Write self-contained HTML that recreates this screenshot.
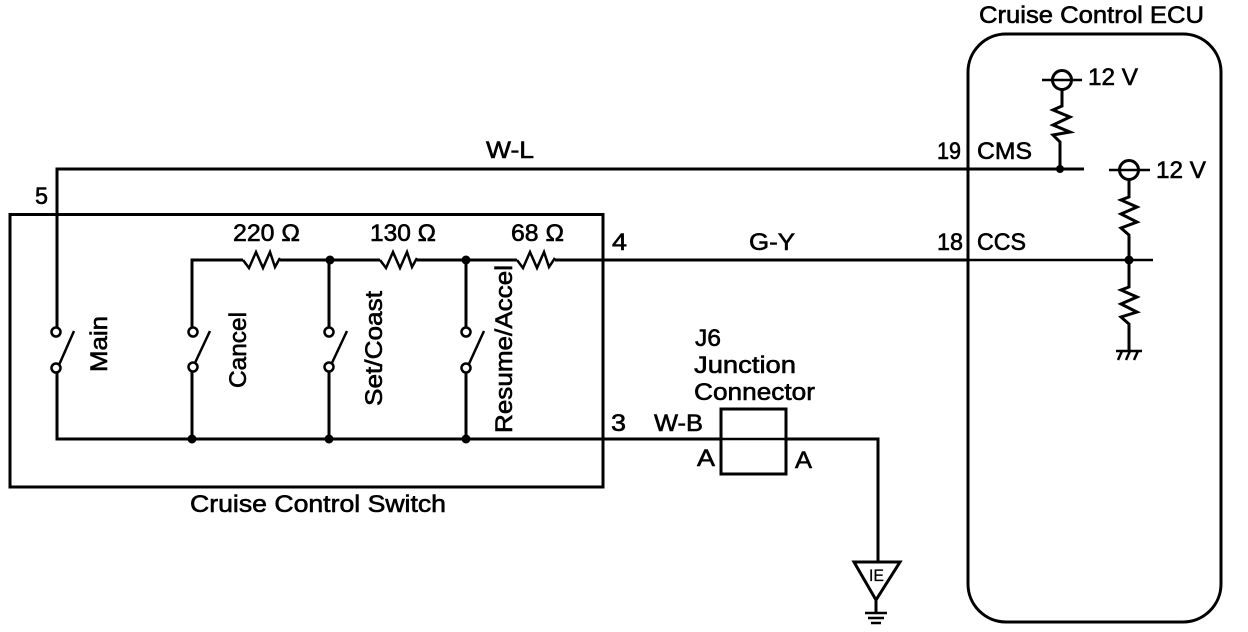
<!DOCTYPE html>
<html><head><meta charset="utf-8"><style>
html,body{margin:0;padding:0;background:#fff;width:1248px;height:632px;overflow:hidden}
svg{display:block}
text{font-family:"Liberation Sans",sans-serif;font-size:24px;fill:#000;stroke:#000;stroke-width:.6px}
.w{fill:none;stroke:#000;stroke-width:3}
.n{fill:none;stroke:#000;stroke-width:2.5}
.t{fill:none;stroke:#000;stroke-width:2.5}
.c{fill:#fff;stroke:#000;stroke-width:2.5}
</style></head><body>
<svg width="1248" height="632" viewBox="0 0 1248 632" xmlns="http://www.w3.org/2000/svg">
<rect x="10" y="214.500" width="593" height="272.500" class="w"/>
<rect x="968" y="34" width="253" height="588" rx="38" ry="38" class="w"/>
<!-- wires -->
<path class="w" d="M1084 169H57V327"/>
<path class="w" d="M192 327V260H243M280 260H380M417 260H517M555 260H968"/>
<path class="n" d="M968 260H1153"/>
<path class="w" d="M329 260V327M466 260V327"/>
<path class="w" d="M57 372V439H721"/>
<path class="n" d="M721 439H786"/>
<path class="w" d="M786 439H878V562"/>
<path class="w" d="M192 372V439M329 372V439M466 372V439"/>
<!-- resistors H -->
<path class="t" d="M243 260L249 268L256 252L263 268L270 252L275 267L280 258"/>
<path class="t" d="M380 260L386 268L393 252L400 268L407 252L412 267L417 258"/>
<path class="t" d="M517 260L523 268L530 252L537 268L544 252L549 267L555 258"/>
<!-- switches -->
<g>
<path class="t" d="M59 365L74 331M194 365L210 331M331 365L347 331M468 366L484 331"/>
<circle class="c" cx="56" cy="332" r="4.500"/><circle class="c" cx="56" cy="368" r="4.500"/>
<circle class="c" cx="193" cy="332" r="4.500"/><circle class="c" cx="193" cy="367" r="4.500"/>
<circle class="c" cx="329" cy="332" r="4.500"/><circle class="c" cx="329" cy="367" r="4.500"/>
<circle class="c" cx="466" cy="332" r="4.500"/><circle class="c" cx="466" cy="368" r="4.500"/>
</g>
<!-- dots -->
<g fill="#000">
<circle cx="330" cy="260" r="4.500"/><circle cx="466" cy="260" r="4.500"/>
<circle cx="192" cy="439" r="4.500"/><circle cx="329" cy="439" r="4.500"/><circle cx="466" cy="439" r="4.500"/>
<circle cx="1060" cy="169" r="4"/><circle cx="1129" cy="260" r="4.500"/>
</g>
<!-- junction -->
<rect x="721" y="409" width="65" height="65" class="w"/>
<!-- ground -->
<path class="w" d="M854 562H900L876 600Z"/>
<path class="w" d="M876 600V612"/>
<path class="t" d="M865 613H887M868 618H884M871 623H881"/>
<!-- ECU internals -->
<circle cx="1062" cy="80" r="9.500" class="w"/>
<path class="t" d="M1042 80H1082"/>
<path class="w" d="M1062 90V106L1053 110L1070 117L1053 125L1070 132L1053 135L1060 142V169"/>
<circle cx="1129" cy="170" r="9.500" class="w"/>
<path class="t" d="M1109 170H1150"/>
<path class="w" d="M1129 180V197L1121 200L1137 207L1121 214L1137 222L1121 228L1129 235V260V287L1121 290L1137 297L1121 304L1137 312L1121 317L1129 324V350"/>
<path class="t" d="M1116 351H1142M1122 351L1118 360M1130 351L1126 360M1138 351L1134 360"/>
<!-- labels -->
<text x="979" y="23" textLength="225" lengthAdjust="spacingAndGlyphs">Cruise Control ECU</text>
<text x="1088" y="85" textLength="50" lengthAdjust="spacingAndGlyphs">12 V</text>
<text x="1156" y="178" textLength="50" lengthAdjust="spacingAndGlyphs">12 V</text>
<text x="977" y="159" textLength="55" lengthAdjust="spacingAndGlyphs">CMS</text>
<text x="977" y="250" textLength="49" lengthAdjust="spacingAndGlyphs">CCS</text>
<text x="937" y="159" textLength="24" lengthAdjust="spacingAndGlyphs">19</text>
<text x="937" y="250" textLength="26" lengthAdjust="spacingAndGlyphs">18</text>
<text x="486" y="158" textLength="48" lengthAdjust="spacingAndGlyphs">W-L</text>
<text x="749" y="250" textLength="46" lengthAdjust="spacingAndGlyphs">G-Y</text>
<text x="35" y="204" textLength="13" lengthAdjust="spacingAndGlyphs">5</text>
<text x="612" y="250" textLength="15" lengthAdjust="spacingAndGlyphs">4</text>
<text x="611" y="431" textLength="15" lengthAdjust="spacingAndGlyphs">3</text>
<text x="654" y="431" textLength="49" lengthAdjust="spacingAndGlyphs">W-B</text>
<text x="233" y="241" textLength="67" lengthAdjust="spacingAndGlyphs">220 Ω</text>
<text x="370" y="241" textLength="66" lengthAdjust="spacingAndGlyphs">130 Ω</text>
<text x="511" y="241" textLength="53" lengthAdjust="spacingAndGlyphs">68 Ω</text>
<text x="695" y="346" textLength="26" lengthAdjust="spacingAndGlyphs">J6</text>
<text x="694" y="373" textLength="102" lengthAdjust="spacingAndGlyphs">Junction</text>
<text x="694" y="400" textLength="121" lengthAdjust="spacingAndGlyphs">Connector</text>
<text x="697" y="466" textLength="18" lengthAdjust="spacingAndGlyphs">A</text>
<text x="795" y="468" textLength="17" lengthAdjust="spacingAndGlyphs">A</text>
<text x="190" y="512" textLength="256" lengthAdjust="spacingAndGlyphs">Cruise Control Switch</text>
<text x="869" y="581" style="font-size:17px;stroke-width:.3px" textLength="15" lengthAdjust="spacingAndGlyphs">IE</text>
<text transform="translate(107,372) rotate(-90)" textLength="56" lengthAdjust="spacingAndGlyphs">Main</text>
<text transform="translate(246,388) rotate(-90)" textLength="76" lengthAdjust="spacingAndGlyphs">Cancel</text>
<text transform="translate(382,406) rotate(-90)" textLength="115" lengthAdjust="spacingAndGlyphs">Set/Coast</text>
<text transform="translate(512,433) rotate(-90)" textLength="168" lengthAdjust="spacingAndGlyphs">Resume/Accel</text>
</svg>
</body></html>
